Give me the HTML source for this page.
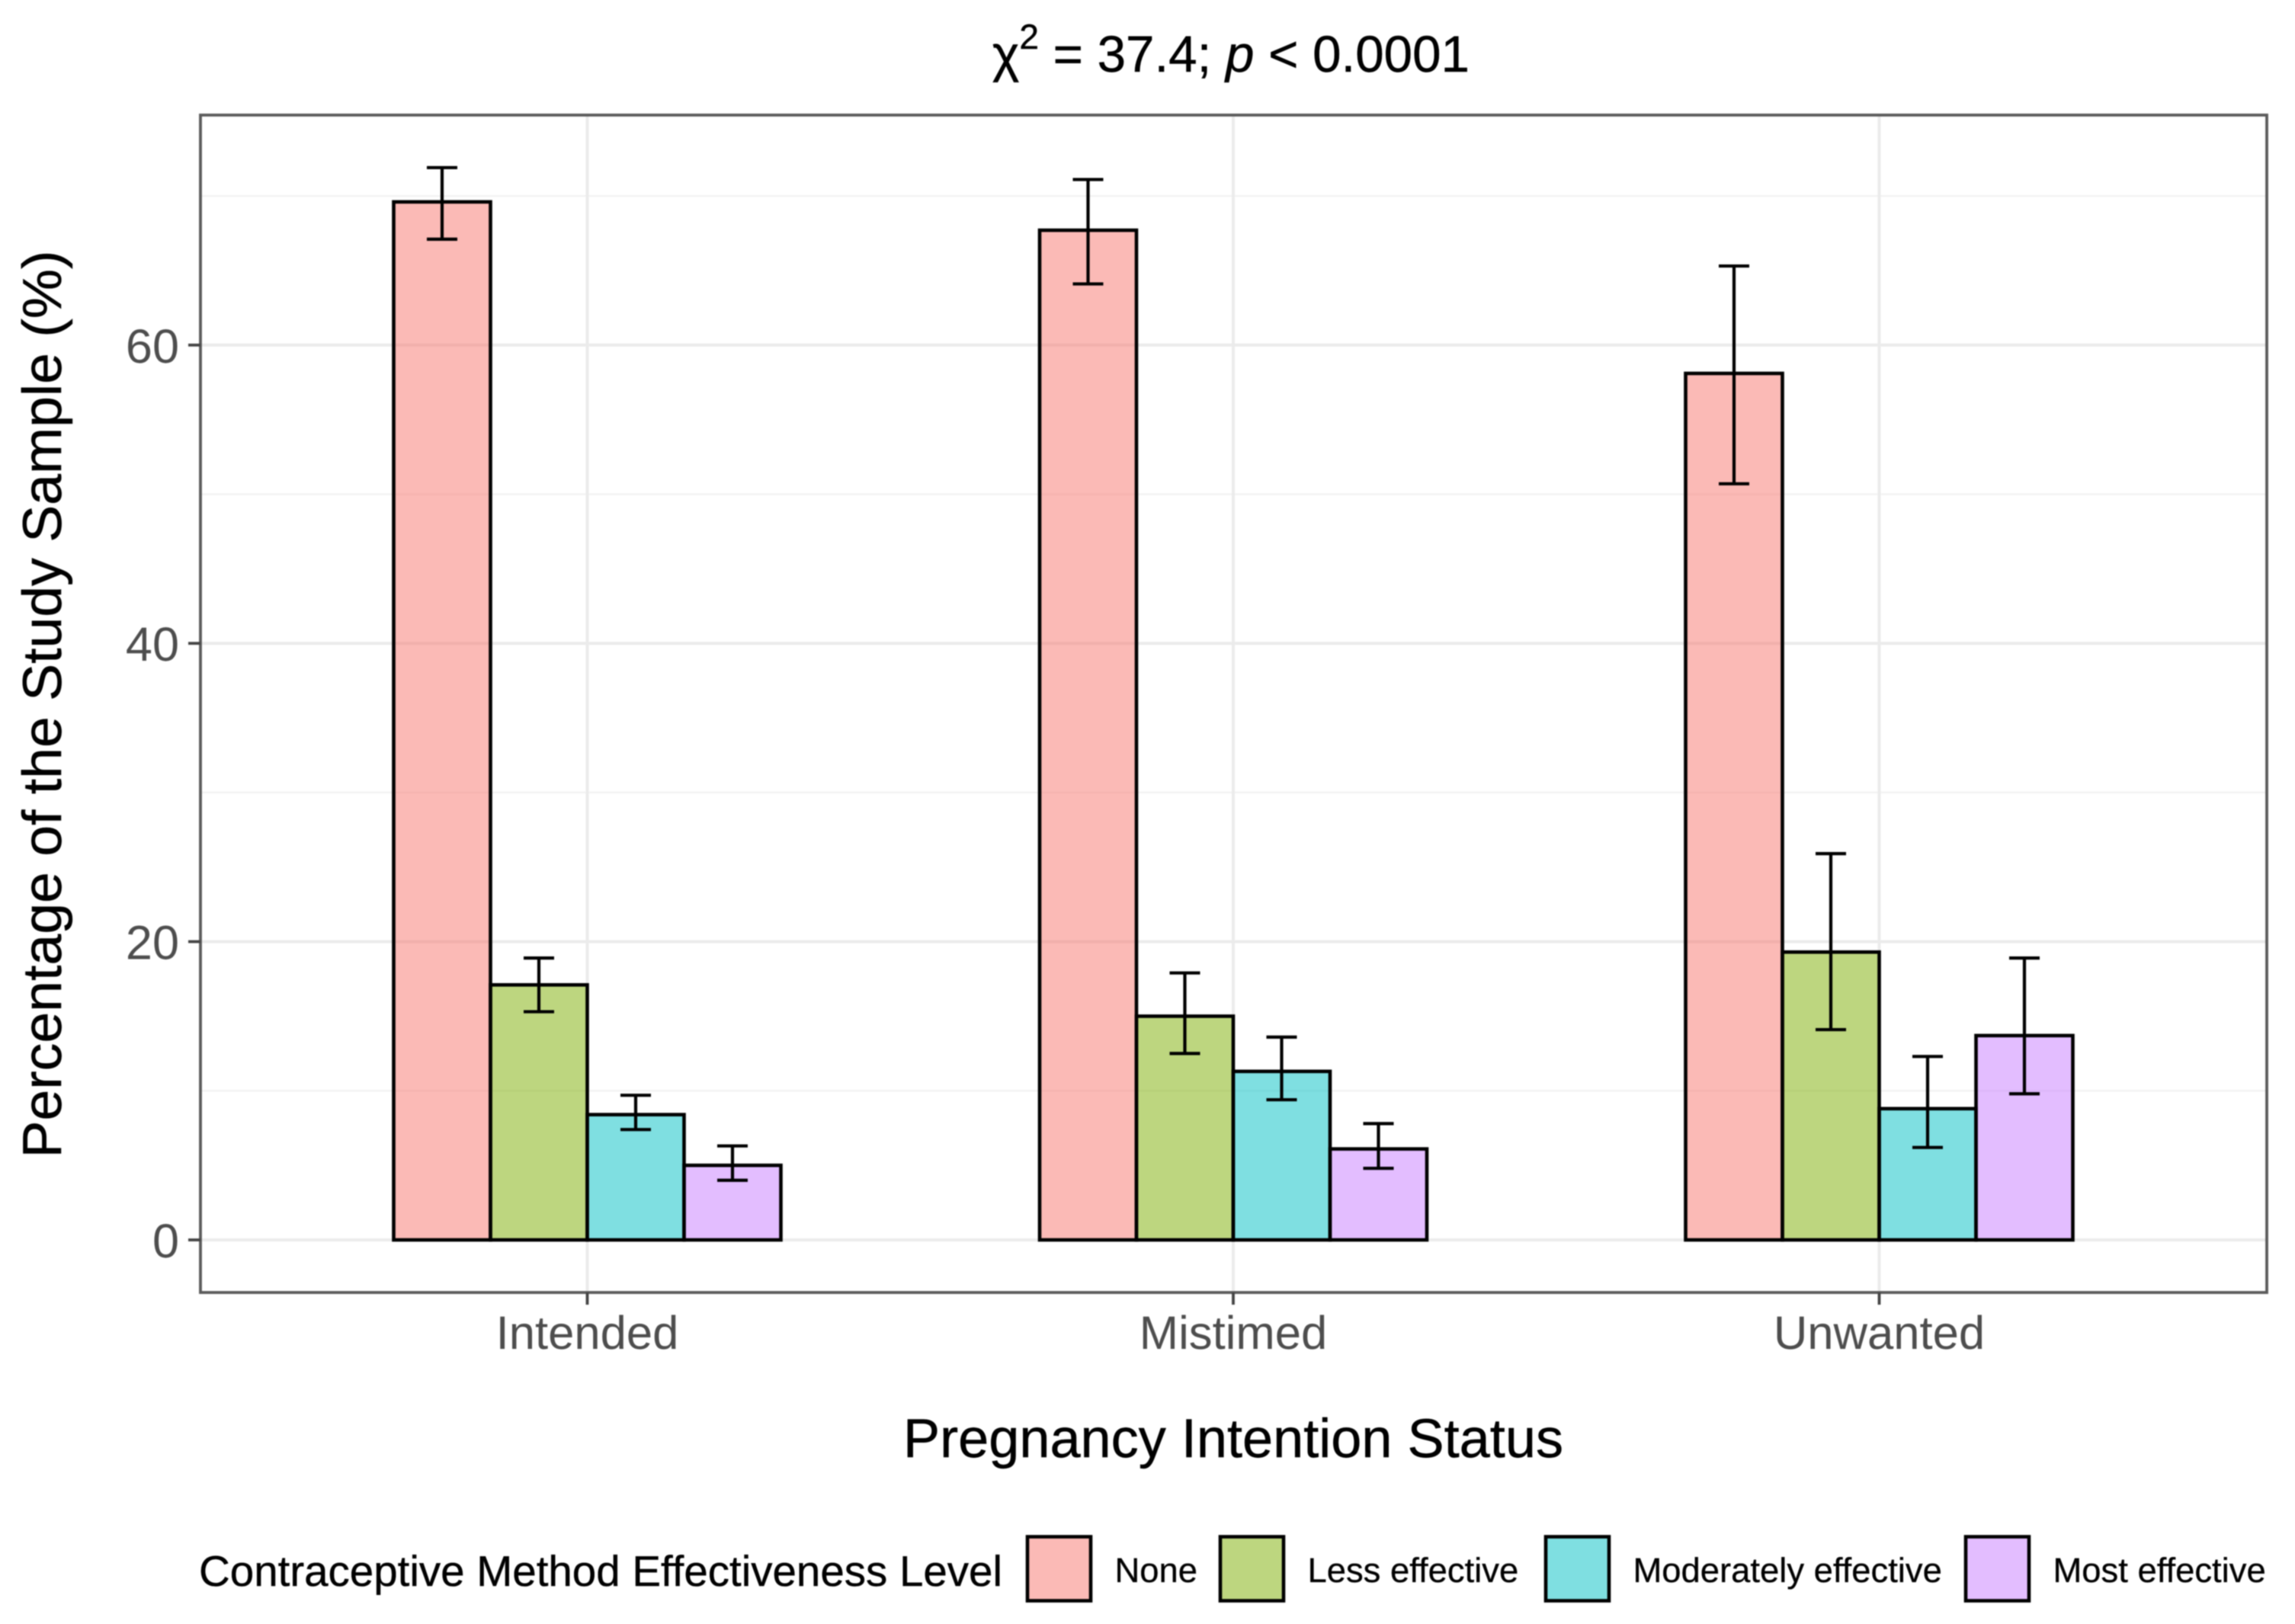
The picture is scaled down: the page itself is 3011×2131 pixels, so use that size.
<!DOCTYPE html>
<html lang="en">
<head>
<meta charset="utf-8">
<title>Contraceptive Method Effectiveness by Pregnancy Intention Status</title>
<style>
html,body{margin:0;padding:0;background:#fff;width:3011px;height:2131px;overflow:hidden}
svg{display:block;font-family:"Liberation Sans",Arial,sans-serif;text-rendering:geometricPrecision;filter:blur(0.9px)}
</style>
</head>
<body>
<svg id="chart" xmlns="http://www.w3.org/2000/svg" width="3011" height="2131" viewBox="0 0 3011 2131">
  <rect x="0" y="0" width="3011" height="2131" fill="#fff"/>
  <g id="grid"></g>
  <g id="bars"></g>
  <g id="errors"></g>
  <rect x="263" y="151" width="2711" height="1545" fill="none" stroke="#5a5a5a" stroke-width="3.8"/>
  <g id="axes"></g>
  <text x="1302" y="94" font-size="67.3" fill="#000" stroke="#000" stroke-width="0.5">χ<tspan dy="-30" font-size="46">2</tspan><tspan dy="30"> = 37.4; </tspan><tspan font-style="italic">p</tspan> &lt; 0.0001</text>
  <text x="1618" y="1912" font-size="72" fill="#000" stroke="#000" stroke-width="0.5" text-anchor="middle" textLength="866" lengthAdjust="spacingAndGlyphs">Pregnancy Intention Status</text>
  <text transform="translate(80 924) rotate(-90)" font-size="72" fill="#000" stroke="#000" stroke-width="0.5" text-anchor="middle" textLength="1191" lengthAdjust="spacingAndGlyphs">Percentage of the Study Sample (%)</text>
  <text x="261" y="2081" font-size="56.4" fill="#000" stroke="#000" stroke-width="0.4" textLength="1054" lengthAdjust="spacingAndGlyphs">Contraceptive Method Effectiveness Level</text>
  <g id="legend"></g>
</svg>
<script>
const categories = ["Intended", "Mistimed", "Unwanted"];
const seriesNames = ["None", "Less effective", "Moderately effective", "Most effective"];
const seriesColors = ["#F8766D", "#7CAE00", "#00BFC4", "#C77CFF"];
const noneValues = [69.6, 67.7, 58.1];
const lessValues = [17.1, 15.0, 19.3];
const moderateValues = [8.4, 11.3, 8.8];
const mostValues = [5.0, 6.1, 13.7];
const noneLower = [67.1, 64.1, 50.7];
const noneUpper = [71.9, 71.1, 65.3];
const lessLower = [15.3, 12.5, 14.1];
const lessUpper = [18.9, 17.9, 25.9];
const moderateLower = [7.4, 9.4, 6.2];
const moderateUpper = [9.7, 13.6, 12.3];
const mostLower = [4.0, 4.8, 9.8];
const mostUpper = [6.3, 7.8, 18.9];
const yTickLabels = [0, 20, 40, 60];
const yMinorTicks = [10, 30, 50, 70];

const seriesValues = [noneValues, lessValues, moderateValues, mostValues];
const seriesLower = [noneLower, lessLower, moderateLower, mostLower];
const seriesUpper = [noneUpper, lessUpper, moderateUpper, mostUpper];

const NS = "http://www.w3.org/2000/svg";
function yScale(v) { return 1627 - v * 19.57; }
function xScale(i) { return 770.5 + i * 847.5; }
const BAR_WIDTH = 127;
function barLeft(catIndex, seriesIndex) {
  return xScale(catIndex) + (seriesIndex - seriesNames.length / 2) * BAR_WIDTH;
}
function make(parentId, tag, attrs, text) {
  const el = document.createElementNS(NS, tag);
  for (const k in attrs) el.setAttribute(k, attrs[k]);
  if (text !== undefined) el.textContent = text;
  document.getElementById(parentId).appendChild(el);
  return el;
}
function slug(s) { return String(s).toLowerCase().replace(/\s+/g, '-'); }

yMinorTicks.forEach(function (v) {
  const el = make('grid', 'line', {x1: 263, x2: 2974, y1: yScale(v), y2: yScale(v), stroke: '#f3f3f3', 'stroke-width': 2.5});
  
  
});
yTickLabels.forEach(function (v) {
  const el = make('grid', 'line', {x1: 263, x2: 2974, y1: yScale(v), y2: yScale(v), stroke: '#ebebeb', 'stroke-width': 4});
  
  
});
categories.forEach(function (c, i) {
  const el = make('grid', 'line', {x1: xScale(i), x2: xScale(i), y1: 151, y2: 1696, stroke: '#ebebeb', 'stroke-width': 4});
  
  
});

categories.forEach(function (c, i) {
  seriesNames.forEach(function (s, j) {
    const v = seriesValues[j][i];
    const rect = make('bars', 'rect', {
      x: barLeft(i, j), y: yScale(v), width: BAR_WIDTH, height: yScale(0) - yScale(v),
      fill: seriesColors[j], 'fill-opacity': 0.5, stroke: '#000', 'stroke-width': 4.6
    });
    
    

    const cx = barLeft(i, j) + BAR_WIDTH / 2;
    const lo = yScale(seriesLower[j][i]);
    const hi = yScale(seriesUpper[j][i]);
    const stem = make('errors', 'line', {x1: cx, x2: cx, y1: hi, y2: lo, stroke: '#000', 'stroke-width': 4.2});
    
    
    const capHi = make('errors', 'line', {x1: cx - 20, x2: cx + 20, y1: hi, y2: hi, stroke: '#000', 'stroke-width': 4.2});
    
    
    const capLo = make('errors', 'line', {x1: cx - 20, x2: cx + 20, y1: lo, y2: lo, stroke: '#000', 'stroke-width': 4.2});
    
    
  });
});

yTickLabels.forEach(function (v) {
  const tick = make('axes', 'line', {x1: 247, x2: 263, y1: yScale(v), y2: yScale(v), stroke: '#444', 'stroke-width': 3.8});
  
  
  const label = make('axes', 'text', {x: 235, y: yScale(v) + 23, 'text-anchor': 'end', 'font-size': 63, fill: '#4d4d4d'}, v);
  
  
});
categories.forEach(function (c, i) {
  const tick = make('axes', 'line', {x1: xScale(i), x2: xScale(i), y1: 1696, y2: 1712, stroke: '#444', 'stroke-width': 3.8});
  
  
  const label = make('axes', 'text', {x: xScale(i), y: 1770, 'text-anchor': 'middle', 'font-size': 61.6, fill: '#4d4d4d'}, c);
  
  
});

const legendKeyLefts = [1348, 1601, 2028, 2579];
seriesNames.forEach(function (s, j) {
  const key = make('legend', 'rect', {x: legendKeyLefts[j], y: 2016.5, width: 83, height: 84, fill: seriesColors[j], 'fill-opacity': 0.5, stroke: '#000', 'stroke-width': 4.6});
  
  
  const label = make('legend', 'text', {x: legendKeyLefts[j] + 114.5, y: 2076, 'font-size': 45.4, fill: '#000', stroke: '#000', 'stroke-width': 0.3}, s);
  
  
});
</script>
</body>
</html>
